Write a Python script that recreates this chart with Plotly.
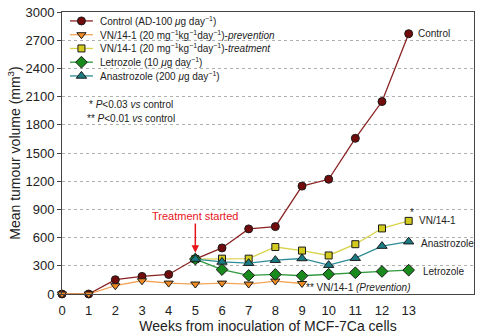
import plotly.graph_objects as go

weeks_control = list(range(0, 14))
control = [0, 0, 152, 187, 208, 372, 490, 693, 717, 1148, 1221, 1657, 2048, 2770]

weeks_prev = list(range(0, 10))
vn_prevention = [0, 0, 88, 141, 116, 106, 116, 106, 138, 112]

weeks_treat = list(range(5, 14))
vn_treatment = [372, 376, 376, 500, 462, 410, 530, 698, 778]
letrozole = [372, 260, 198, 208, 194, 211, 226, 240, 254]
anastrozole = [372, 341, 328, 360, 378, 307, 381, 510, 557]

x_ticks = list(range(0, 14))
y_ticks = list(range(0, 3001, 300))

FONT = "Liberation Sans, Arial, sans-serif"
X_MAX, Y_MAX = 15.45, 3000

# layout constants for the hand-made legend (pixels inside the plot area)
PLOT_W, PLOT_H = 413, 287
LEG_ROW0, LEG_ROW_STEP = 9, 14
LEG_X0, LEG_X1, LEG_TEXT_X = 8, 31, 36


def px_x(p):
    return p / PLOT_W * X_MAX


def px_y(p):
    return Y_MAX * (1 - p / PLOT_H)


series = [
    ("Control (AD-100 <i>μ</i>g day<sup>−1</sup>)", weeks_control, control,
     "circle", "#720b0b", "#8b2222", 8),
    ("VN/14-1 (20 mg<sup>−1</sup>kg<sup>−1</sup>day<sup>−1</sup>)-<i>prevention</i>",
     weeks_prev, vn_prevention, "triangle-down", "#ef8c24", "#f4a457", 8),
    ("VN/14-1 (20 mg<sup>−1</sup>kg<sup>−1</sup>day<sup>−1</sup>)-<i>treatment</i>",
     weeks_treat, vn_treatment, "square", "#d4cb1f", "#d9d34c", 7),
    ("Letrozole (10 <i>μ</i>g day<sup>−1</sup>)", weeks_treat, letrozole,
     "diamond", "#198a1c", "#2f9a3c", 9),
    ("Anastrozole (200 <i>μ</i>g day<sup>−1</sup>)", weeks_treat, anastrozole,
     "triangle-up", "#1b7c84", "#2d8c96", 9),
]

fig = go.Figure()
annotations = []
for i, (name, xs, ys, sym, fill, line, size) in enumerate(series):
    fig.add_trace(go.Scatter(
        x=xs, y=ys, name=name, mode="lines+markers",
        line=dict(color=line, width=1.3),
        marker=dict(symbol=sym, size=size, color=fill,
                    line=dict(color="#1a1a1a", width=1)),
        cliponaxis=False, showlegend=False,
    ))
    row = px_y(LEG_ROW0 + i * LEG_ROW_STEP)
    fig.add_trace(go.Scatter(
        x=[px_x(LEG_X0), px_x(LEG_X1)], y=[row, row], mode="lines",
        line=dict(color=line, width=1.3), showlegend=False, hoverinfo="skip",
    ))
    fig.add_trace(go.Scatter(
        x=[px_x((LEG_X0 + LEG_X1) / 2)], y=[row], mode="markers",
        marker=dict(symbol=sym, size=size, color=fill,
                    line=dict(color="#1a1a1a", width=1)),
        showlegend=False, hoverinfo="skip",
    ))
    annotations.append(dict(
        x=px_x(LEG_TEXT_X), y=row, text=name, xanchor="left",
        yanchor="middle", showarrow=False,
        font=dict(family=FONT, size=10, color="#222")))

ann_font = dict(family=FONT, size=10, color="#222")
annotations += [
    dict(x=13.27, y=control[-1], text="Control", xanchor="left", yanchor="middle",
         showarrow=False, font=ann_font),
    dict(x=13.33, y=781, text="VN/14-1", xanchor="left", yanchor="middle",
         showarrow=False, font=ann_font),
    dict(x=13.12, y=865, text="*", xanchor="center", yanchor="middle",
         showarrow=False, font=ann_font),
    dict(x=13.38, y=533, text="Anastrozole", xanchor="left", yanchor="middle",
         showarrow=False, font=ann_font),
    dict(x=13.46, y=244, text="Letrozole", xanchor="left", yanchor="middle",
         showarrow=False, font=ann_font),
    dict(x=9.07, y=72, text="** VN/14-1 <i>(Prevention)</i>", xanchor="left",
         yanchor="middle", showarrow=False, font=ann_font),
    dict(x=0.95, y=2020, text="* <i>P</i><0.03 <i>vs</i> control",
         xanchor="left", yanchor="middle", showarrow=False, font=ann_font),
    dict(x=0.85, y=1870, text="** <i>P</i><0.01 <i>vs</i> control",
         xanchor="left", yanchor="middle", showarrow=False, font=ann_font),
    dict(x=5, y=826, text="Treatment started", xanchor="center", yanchor="middle",
         showarrow=False, font=dict(family=FONT, size=11, color="#e8141b")),
    dict(x=5, y=440, ax=5, ay=765, axref="x", ayref="y", text="", showarrow=True,
         arrowhead=2, arrowsize=1, arrowwidth=1.5, arrowcolor="#e8141b"),
]

fig.update_layout(
    width=480, height=336,
    margin=dict(l=62, r=5, t=7, b=42),
    paper_bgcolor="white", plot_bgcolor="white",
    font=dict(family=FONT, color="#222"),
    showlegend=False,
    hovermode=False,
    annotations=annotations,
    xaxis=dict(range=[0, X_MAX], tickvals=x_ticks, ticktext=[str(v) for v in x_ticks],
               showgrid=False, zeroline=False, showline=True, linecolor="#444",
               linewidth=1, mirror=True, ticks="outside", ticklen=4,
               tickcolor="rgba(0,0,0,0)", tickfont=dict(size=13),
               title=dict(text="Weeks from inoculation of MCF-7Ca cells",
                          font=dict(size=14), standoff=3)),
    yaxis=dict(range=[0, Y_MAX + 1], tickvals=y_ticks, showgrid=True,
               gridcolor="#b0b0b0", griddash="dot", gridwidth=1,
               zeroline=False, showline=True, linecolor="#444", linewidth=1,
               mirror=True, ticks="outside", ticklen=4, tickcolor="#444",
               tickfont=dict(size=13), ticklabeloverflow="allow",
               title=dict(text="Mean tumour volume (mm<sup>3</sup>)",
                          font=dict(size=14), standoff=1)),
)

fig.write_html("out.html",
               config={"displayModeBar": False, "staticPlot": True},
               post_script="document.body.style.margin='0';")
